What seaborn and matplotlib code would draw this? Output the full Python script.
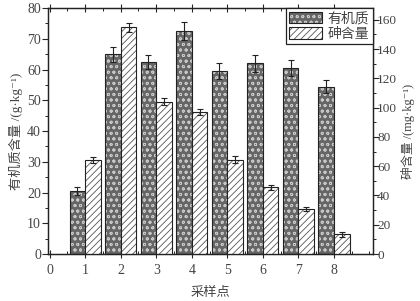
import matplotlib
matplotlib.use('Agg')
import matplotlib.pyplot as plt
import seaborn as sns
import pandas as pd
from matplotlib.ticker import MultipleLocator
from matplotlib.patches import Patch

sites = [1, 2, 3, 4, 5, 6, 7, 8]
organic = [20.5, 65.0, 62.5, 72.5, 59.5, 62.0, 60.5, 54.5]
organic_err = [1.2, 2.4, 2.2, 3.0, 2.7, 2.7, 2.5, 2.2]
arsenic = [64.0, 155.0, 104.0, 97.0, 64.5, 45.5, 31.0, 13.5]
arsenic_err = [2.0, 3.0, 2.3, 1.8, 2.5, 1.6, 1.4, 1.6]
series = ['有机质', '砷含量']
xticks = [0, 1, 2, 3, 4, 5, 6, 7, 8]

sns.set_theme(style='ticks')
plt.rcParams['font.family'] = ['Liberation Serif', 'DejaVu Serif', 'Noto Sans CJK SC']
plt.rcParams['hatch.linewidth'] = 0.6
TXT = '#444444'

ORG_FACE, ORG_HATCH = '#666666', '#c8c8c8'
ARS_FACE, ARS_HATCH = '#ffffff', '#555555'

fig = plt.figure(figsize=(4.2, 3.01), dpi=100)
ax = fig.add_axes([0.114, 0.156, 0.774, 0.817])
ax2 = ax.twinx()

df_o = pd.DataFrame({'site': sites, 'value': organic, 'series': series[0]})
df_a = pd.DataFrame({'site': sites, 'value': arsenic, 'series': series[1]})
pal = {series[0]: ORG_FACE, series[1]: ARS_FACE}

sns.barplot(data=df_o, x='site', y='value', hue='series', hue_order=series,
            palette=pal, native_scale=True, dodge=True, width=0.88,
            errorbar=None, ax=ax, legend=False)
sns.barplot(data=df_a, x='site', y='value', hue='series', hue_order=series,
            palette=pal, native_scale=True, dodge=True, width=0.88,
            errorbar=None, ax=ax2, legend=False)


def style(p, face, hatch, hcol):
    p.set_facecolor(face)
    p.set_edgecolor('#222222')
    p.set_linewidth(0.8)
    p.set_hatch(hatch)
    p._hatch_color = matplotlib.colors.to_rgba(hcol)


for axis, face, hatch, hcol, err in [(ax, ORG_FACE, 'ooo', ORG_HATCH, organic_err),
                                     (ax2, ARS_FACE, '/////', ARS_HATCH, arsenic_err)]:
    bars = [p for p in axis.patches]
    xs, ys = [], []
    for p in bars:
        style(p, face, hatch, hcol)
        xs.append(p.get_x() + p.get_width() / 2)
        ys.append(p.get_height())
    axis.errorbar(xs, ys, yerr=err, fmt='none', ecolor='#222222',
                  elinewidth=0.8, capsize=2.5, capthick=0.8, zorder=5)

ax.set_xlim(-0.05, 9.1)
ax.set_ylim(0, 80)
ax2.set_ylim(0, 168)
ax.set_xticks(xticks)
ax.set_xticklabels([str(t) for t in xticks])
ax.xaxis.set_minor_locator(MultipleLocator(0.5))
ax.yaxis.set_major_locator(MultipleLocator(10))
ax.yaxis.set_minor_locator(MultipleLocator(5))
ax2.yaxis.set_major_locator(MultipleLocator(20))
ax2.yaxis.set_minor_locator(MultipleLocator(10))

ax.tick_params(axis='x', which='major', direction='inout', length=6, width=0.8,
               top=True, labelsize=10, labelcolor=TXT, pad=4)
ax.tick_params(axis='x', which='minor', direction='in', length=2.5, width=0.7, top=True)
ax.tick_params(axis='y', which='major', direction='out', length=4, width=0.8,
               labelsize=10, labelcolor=TXT, pad=1)
ax.tick_params(axis='y', which='minor', direction='out', length=2.5, width=0.7)
ax2.tick_params(axis='y', which='major', direction='out', length=4, width=0.8,
                labelsize=9.5, labelcolor=TXT, pad=-1)
ax2.tick_params(axis='y', which='minor', direction='out', length=2.5, width=0.7)

for a in (ax, ax2):
    for s in a.spines.values():
        s.set_visible(True)
        s.set_color('#222222')
        s.set_linewidth(0.9)

ax.set_xlabel('采样点', fontsize=9.5, color=TXT, labelpad=7)
ax.set_ylabel('有机质含量 /(g·kg⁻¹)', fontsize=9.5, color=TXT, labelpad=3)
ax2.set_ylabel('砷含量 /(mg·kg⁻¹)', fontsize=9, color=TXT, labelpad=3, rotation=90)

h1 = Patch(facecolor=ORG_FACE, edgecolor='#222222', hatch='ooo', linewidth=0.8)
h1._hatch_color = matplotlib.colors.to_rgba(ORG_HATCH)
h2 = Patch(facecolor=ARS_FACE, edgecolor='#222222', hatch='/////', linewidth=0.8)
h2._hatch_color = matplotlib.colors.to_rgba(ARS_HATCH)
leg = ax2.legend(handles=[h1, h2], labels=series, loc='upper right',
                 borderaxespad=0, fancybox=False, frameon=True, framealpha=1,
                 edgecolor='#222222', fontsize=10, handlelength=2.4,
                 handleheight=0.9, handletextpad=0.4, labelspacing=0.15,
                 borderpad=0.25, labelcolor=TXT)
leg.get_frame().set_linewidth(0.9)

fig.savefig('out.png', dpi=100)
